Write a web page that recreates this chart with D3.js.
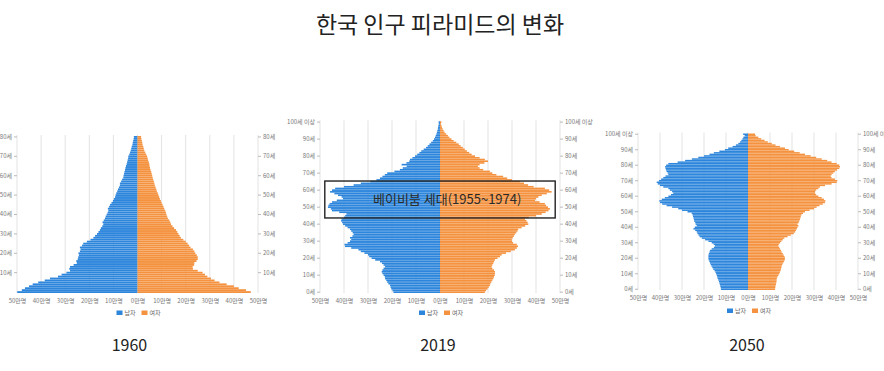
<!DOCTYPE html>
<html>
<head>
<meta charset="utf-8">
<script src="https://cdnjs.cloudflare.com/ajax/libs/d3/7.8.5/d3.min.js"></script>
<style>
	body { margin: 0; background: #fff; }
	svg { display: block; font-family: 'Noto Sans CJK KR', 'Noto Sans', sans-serif; }
</style>
</head>
<body>
<svg id="chart" width="884" height="371"></svg>
<script>
// values in 만명, one entry per single year of age (index = age)
const male1960 = [49.9,48.0,46.7,45.0,43.5,41.2,38.5,36.3,33.0,31.5,
	29.5,28.0,28.3,28.0,26.5,25.2,25.4,24.8,24.6,24.3,
	24.5,23.9,23.6,23.9,23.0,22.5,21.0,19.5,18.3,17.6,
	16.8,16.2,15.6,15.2,14.6,14.2,14.5,14.0,13.5,13.2,
	12.8,12.4,12.1,12.3,11.8,11.4,10.8,10.2,9.8,9.3,
	9.1,8.8,8.4,8.1,7.7,7.3,7.3,6.8,6.4,5.9,
	5.8,5.6,5.4,5.2,5.0,4.8,4.5,4.3,4.1,3.9,
	3.8,3.4,3.1,2.8,2.6,2.4,2.1,2.0,1.8,1.6,
	1.5];
const female1960 = [47.0,45.0,42.0,40.0,37.0,34.0,32.0,30.5,29.0,28.0,
	27.0,25.0,23.0,22.9,23.5,23.6,24.5,25.0,25.0,24.6,
	24.0,23.6,23.0,22.0,21.4,20.8,20.0,19.0,18.0,17.5,
	17.0,16.5,16.0,15.2,14.5,13.9,13.6,13.2,12.6,12.3,
	12.0,11.8,11.5,11.1,10.8,10.4,10.0,9.7,9.3,9.0,
	8.7,8.4,8.0,7.8,7.5,7.2,7.0,6.8,6.5,6.3,
	6.1,5.9,5.7,5.4,5.2,5.0,4.9,4.7,4.4,4.2,
	4.0,3.6,3.2,2.8,2.6,2.4,2.1,2.0,1.8,1.6,
	1.5];

const male2019 = [19.4,19.8,20.3,20.6,20.8,21.5,22.0,22.4,22.9,23.0,
	23.5,24.0,24.3,24.0,23.5,22.9,23.5,24.2,25.0,27.0,
	28.5,29.5,30.0,31.5,33.0,34.0,37.0,39.6,39.8,38.5,
	37.5,37.0,37.5,36.5,36.0,36.4,37.0,37.5,38.5,39.5,
	40.4,40.8,41.2,41.0,40.0,39.5,39.0,42.0,45.0,45.5,
	46.7,46.5,46.0,45.0,43.0,40.4,41.0,42.5,44.0,45.8,
	45.0,43.7,40.0,36.0,33.0,29.0,26.5,25.0,24.0,23.0,
	22.0,19.0,16.7,15.5,13.9,16.0,14.0,12.8,12.5,11.5,
	10.4,9.5,8.6,7.8,6.8,5.8,5.1,4.4,3.7,3.0,
	2.5,2.1,1.8,1.5,1.3,1.1,0.9,0.8,0.7,0.5,
	0.6];
const female2019 = [18.7,19.2,19.8,20.3,20.8,21.0,21.4,21.8,22.2,22.5,
	22.8,22.9,22.9,22.5,21.8,21.5,21.8,22.2,22.5,22.9,
	24.0,25.0,25.7,27.5,29.5,31.2,32.0,32.5,32.0,30.5,
	30.0,29.9,30.3,30.8,31.2,31.8,32.3,32.6,34.0,35.5,
	36.8,36.5,36.0,35.4,37.0,40.0,42.4,44.0,45.2,45.8,
	45.0,44.2,43.7,41.5,39.6,40.0,41.0,42.4,44.5,46.5,
	45.5,43.7,39.0,36.7,35.0,33.3,30.0,28.0,26.3,23.5,
	21.8,20.8,18.0,16.5,15.8,16.5,18.5,20.0,18.7,16.5,
	14.6,13.2,12.2,11.2,10.3,9.5,8.6,7.8,6.8,5.7,
	4.8,3.9,3.3,2.6,1.9,1.5,1.1,0.8,0.6,0.4,
	0.6];

const male2050 = [12.3,12.4,12.6,12.8,13.0,13.2,13.5,13.8,14.0,14.2,
	14.5,14.8,15.2,15.8,16.2,16.6,17.0,17.3,17.6,17.9,
	18.0,18.0,18.0,17.8,17.5,17.3,16.5,15.5,15.0,15.6,
	16.5,18.0,19.5,21.0,22.0,22.5,23.0,23.3,24.0,24.8,
	24.2,23.3,23.8,24.0,24.5,24.6,24.8,25.0,25.2,25.6,
	27.5,30.0,31.7,34.5,37.0,39.0,40.0,40.3,39.2,37.8,
	36.2,35.0,34.0,34.5,35.5,36.2,38.5,40.0,41.0,41.5,
	40.5,39.5,38.5,37.5,36.2,36.5,37.0,37.3,37.5,37.7,
	37.2,36.2,32.0,28.6,25.5,22.6,20.0,17.5,15.5,13.0,
	10.5,9.0,7.0,5.5,4.4,3.6,3.0,2.5,2.1,1.5,
	2.2];
const female2050 = [12.3,12.4,12.5,12.7,12.8,13.0,13.0,13.1,13.4,13.8,
	14.2,14.5,14.8,15.0,15.2,15.3,15.6,16.0,16.4,16.7,
	16.8,16.6,16.2,15.8,15.3,15.0,14.6,14.2,13.8,14.0,
	14.6,15.2,15.8,16.5,18.0,19.5,20.8,21.4,21.8,22.2,
	22.5,22.9,22.5,23.0,23.3,23.6,23.8,24.0,24.3,25.0,
	25.9,28.0,30.0,31.2,32.5,34.0,35.0,35.2,34.5,33.5,
	32.0,31.0,30.5,30.5,31.0,32.0,32.7,35.0,38.0,40.3,
	40.6,39.5,38.0,37.6,38.0,38.8,39.5,40.5,41.5,41.8,
	41.5,40.3,38.0,36.0,33.5,31.0,28.5,25.9,23.5,21.0,
	18.5,16.8,14.5,12.5,10.8,9.0,7.5,6.0,4.7,3.5,
	3.2];

const years = ['1960', '2019', '2050'];
const ageTicks1960 = [10, 20, 30, 40, 50, 60, 70, 80];
const ageTicks = [0, 10, 20, 30, 40, 50, 60, 70, 80, 90, 100];
const popTicks = [-50, -40, -30, -20, -10, 0, 10, 20, 30, 40, 50];
const legendLabels = ['남자', '여자'];
const boomer = { label: '베이비붐 세대(1955~1974)', fromAge: 45, toAge: 64 };

const BLUE = '#2d86dc';
const ORANGE = '#f4923f';

const svg = d3.select('#chart');

const Pyramid = function (options) {
	this.svg = options.svg;
	this.cx = options.cx;
	this.half = options.half;
	this.top = options.top;
	this.bottom = options.bottom;
	this.male = options.male;
	this.female = options.female;
	this.ageTicks = options.ageTicks;
	this.legendY = options.legendY;
	this.content = this.svg.append('g').attr('class', 'pyramid');
};

Pyramid.prototype.scaleX = function () {
	return d3.scaleLinear()
		.domain([-50, 50])
		.range([this.cx - this.half, this.cx + this.half]);
};

Pyramid.prototype.scaleY = function () {
	return d3.scaleBand()
		.domain(d3.range(this.male.length))
		.range([this.bottom, this.top])
		.paddingInner(0.05)
		.paddingOuter(0);
};

Pyramid.prototype.ageLabel = function (d) {
	return d === 100 ? '100세 이상' : d + '세';
};

Pyramid.prototype.draw = function () {
	const x = this.scaleX();
	const y = this.scaleY();
	const self = this;

	// grid
	this.content.append('g')
		.selectAll('line')
		.data(popTicks)
		.join('line')
		.attr('x1', d => x(d))
		.attr('x2', d => x(d))
		.attr('y1', this.top - 1)
		.attr('y2', this.bottom)
		.attr('stroke', '#e3e3e3')
		.attr('stroke-width', 1);

	this.content.append('g')
		.selectAll('rect')
		.data(this.male)
		.join('rect')
		.attr('x', d => x(-d))
		.attr('width', d => x(0) - x(-d))
		.attr('y', (d, i) => y(i))
		.attr('height', y.bandwidth())
		.attr('fill', BLUE);

	this.content.append('g')
		.selectAll('rect')
		.data(this.female)
		.join('rect')
		.attr('x', x(0))
		.attr('width', d => x(d) - x(0))
		.attr('y', (d, i) => y(i))
		.attr('height', y.bandwidth())
		.attr('fill', ORANGE);

	const left = this.content.append('g')
		.attr('transform', 'translate(' + x(-50) + ',0)')
		.call(d3.axisLeft(y).tickValues(this.ageTicks).tickSize(3).tickPadding(2)
			.tickFormat(d => self.ageLabel(d)));
	const right = this.content.append('g')
		.attr('transform', 'translate(' + x(50) + ',0)')
		.call(d3.axisRight(y).tickValues(this.ageTicks).tickSize(3).tickPadding(2)
			.tickFormat(d => self.ageLabel(d)));
	const bottom = this.content.append('g')
		.attr('transform', 'translate(0,' + (this.bottom + 2) + ')')
		.call(d3.axisBottom(x).tickValues(popTicks).tickSize(0).tickPadding(4)
			.tickFormat(d => Math.abs(d) + '만명'));

	[left, right, bottom].forEach(g => {
		g.select('.domain').remove();
		g.selectAll('.tick line').attr('stroke', '#bbb');
		g.selectAll('.tick text')
			.attr('fill', '#777')
			.style('font-size', '6px')
			.style('font-family', "'Noto Sans CJK KR', sans-serif");
	});

	// legend
	const legend = this.content.append('g')
		.attr('transform', 'translate(' + (this.cx - 21) + ',' + this.legendY + ')');
	legend.selectAll('rect')
		.data(legendLabels)
		.join('rect')
		.attr('x', (d, i) => i * 25)
		.attr('y', -2.5)
		.attr('width', 6)
		.attr('height', 4.5)
		.attr('fill', (d, i) => i === 0 ? BLUE : ORANGE);
	legend.selectAll('text')
		.data(legendLabels)
		.join('text')
		.attr('x', (d, i) => i * 25 + 8)
		.attr('y', 2)
		.attr('fill', '#666')
		.style('font-size', '6px')
		.text(d => d);

	this.x = x;
	this.y = y;
};

const charts = [
	new Pyramid({ svg: svg, cx: 137.5, half: 120.5, top: 136, bottom: 293,
		male: male1960, female: female1960, ageTicks: ageTicks1960, legendY: 313 }),
	new Pyramid({ svg: svg, cx: 440, half: 120, top: 121.3, bottom: 293,
		male: male2019, female: female2019, ageTicks: ageTicks, legendY: 313 }),
	new Pyramid({ svg: svg, cx: 748, half: 110, top: 133.5, bottom: 290,
		male: male2050, female: female2050, ageTicks: ageTicks, legendY: 311 })
];
charts.forEach(c => c.draw());

// baby boom box on the 2019 chart
const c19 = charts[1];
const boxTop = c19.y(boomer.toAge) - 1.5;
const boxBottom = c19.y(boomer.fromAge) + c19.y.bandwidth() + 1.5;
svg.append('rect')
	.attr('x', c19.x(-48))
	.attr('y', boxTop)
	.attr('width', c19.x(48) - c19.x(-48))
	.attr('height', boxBottom - boxTop)
	.attr('fill', 'none')
	.attr('stroke', '#222')
	.attr('stroke-width', 1.4);
svg.append('text')
	.attr('x', c19.x(3))
	.attr('y', (boxTop + boxBottom) / 2 + 4.5)
	.attr('text-anchor', 'middle')
	.attr('fill', '#2a2a2a')
	.style('font-size', '13px')
	.text(boomer.label);

svg.append('text')
	.attr('x', 440)
	.attr('y', 33)
	.attr('text-anchor', 'middle')
	.attr('fill', '#222')
	.style('font-size', '23px')
	.text('한국 인구 피라미드의 변화');

// year captions sit a little left of each chart centre
const yearOffsets = [-8, -2, -1];
svg.append('g')
	.selectAll('text')
	.data(years)
	.join('text')
	.attr('x', (d, i) => charts[i].cx + yearOffsets[i])
	.attr('y', 351)
	.attr('text-anchor', 'middle')
	.attr('fill', '#222')
	.style('font-size', '16px')
	.text(d => d);
</script>
</body>
</html>
